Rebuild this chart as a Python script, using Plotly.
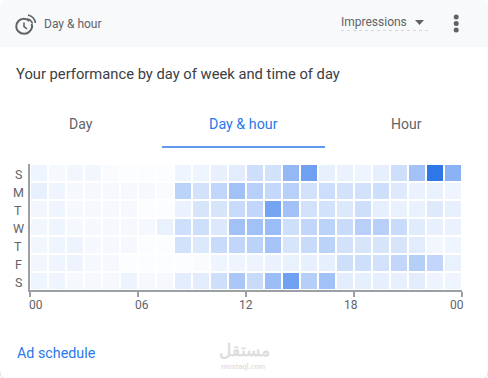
import plotly.graph_objects as go

W, H = 488, 378
hours = list(range(24))
day_labels = ["S", "M", "T", "W", "T", "F", "S"]
sun = [5, 3, 4, 4, 2, 1, 1, 1, 5, 5, 9, 12, 22, 20, 48, 65, 9, 7, 5, 10, 22, 42, 95, 52]
mon = [9, 5, 3, 3, 3, 3, 3, 2, 30, 20, 28, 42, 32, 27, 32, 20, 23, 20, 20, 22, 14, 7, 8, 5]
tue = [4, 5, 3, 3, 3, 3, 1, 1, 7, 18, 18, 25, 28, 62, 42, 20, 20, 15, 22, 10, 8, 8, 14, 9]
wed = [4, 5, 3, 3, 3, 3, 3, 8, 22, 22, 15, 42, 42, 45, 22, 28, 30, 25, 32, 32, 25, 13, 9, 7]
thu = [4, 5, 6, 3, 3, 3, 1, 1, 20, 15, 25, 28, 30, 40, 18, 25, 30, 20, 18, 18, 18, 12, 4, 5]
fri = [4, 5, 6, 3, 3, 1, 1, 1, 1, 2, 5, 5, 6, 7, 8, 9, 10, 22, 22, 20, 28, 33, 28, 8]
sat = [5, 5, 3, 3, 3, 6, 3, 3, 11, 12, 22, 38, 25, 45, 65, 33, 42, 11, 10, 10, 9, 12, 6, 5]
values = [sun, mon, tue, wed, thu, fri, sat]
tick_positions = [-0.5, 5.5, 11.5, 17.5, 23.5]
tick_labels = ["00", "06", "12", "18", "00"]
tick_label_shifts = [6, 4, 0, -3, -5]

FONT = "Roboto"
GREY = "#5f6368"
BLUE = "#2a78ea"


def px(x):
    return x / W


def py(y):
    return 1 - y / H


def path(s):
    out = []
    for t in s:
        if isinstance(t, tuple):
            out.append(f"{px(t[0]):.5f},{py(t[1]):.5f}")
        else:
            out.append(t)
    return " ".join(out)


def text(x, y, t, size, color, anchor="left", weight=400, family=FONT):
    return dict(xref="paper", yref="paper", x=px(x - (2 if anchor == "left" else 0)), y=py(y), text=t,
                showarrow=False, xanchor=anchor, yanchor="middle",
                font=dict(family=family, size=size, color=color, weight=weight))


fig = go.Figure(go.Heatmap(
    z=values, x=hours, y=list(range(7)), zmin=0, zmax=100,
    colorscale=[[0, "#ffffff"], [0.05, "#eff5fe"], [0.2, "#d3e2fb"], [0.5, "#8fb5f6"], [1, "#2470e6"]],
    showscale=False, xgap=2, ygap=2, hoverinfo="skip",
))

shapes = [
    dict(type="path", xref="paper", yref="paper", line=dict(width=0), fillcolor="#f8f9fa", layer="below",
         path=path(["M", (0, 47), "L", (0, 8), "Q", (0, 0), (8, 0), "L", (480, 0),
                    "Q", (488, 0), (488, 8), "L", (488, 47), "Z"])),
    dict(type="path", xref="paper", yref="paper", line=dict(width=1, color="#dadce0"),
         path=path(["M", (0, 372), "Q", (0, 378), (4, 378)])),
    dict(type="path", xref="paper", yref="paper", line=dict(width=1, color="#dadce0"),
         path=path(["M", (488, 372), "Q", (488, 378), (484, 378)])),
    dict(type="path", xref="paper", yref="paper", line=dict(width=2, color=GREY),
         path=path(["M", (29.5, 21), "C", (26.5, 18), (21, 18), (18.5, 21),
                    "C", (15.5, 24), (15.5, 29), (18.5, 31.5),
                    "C", (21.5, 34.5), (27, 34.5), (29.5, 31.5),
                    "C", (32, 29), (32.5, 26), (31.5, 24)])),
    dict(type="path", xref="paper", yref="paper", line=dict(width=1.6, color=GREY),
         path=path(["M", (24, 22.5), "L", (24, 26.5), "L", (27, 29)])),
    dict(type="path", xref="paper", yref="paper", line=dict(width=1.6, color=GREY),
         path=path(["M", (27, 19), "Q", (31, 19.5), (32.5, 23.5)])),
    dict(type="path", xref="paper", yref="paper", line=dict(width=1.6, color=GREY),
         path=path(["M", (28, 15), "Q", (34.5, 16.5), (35.5, 23)])),
    dict(type="path", xref="paper", yref="paper", line=dict(width=0), fillcolor=GREY,
         path=path(["M", (415, 20), "L", (424, 20), "L", (419.5, 25), "Z"])),
    dict(type="line", xref="paper", yref="paper", x0=px(341), x1=px(428), y0=py(30.5), y1=py(30.5),
         line=dict(width=1, color="#d5d7d9", dash="dot")),
    dict(type="line", xref="paper", yref="paper", x0=px(162), x1=px(325), y0=py(147), y1=py(147),
         line=dict(width=1.5, color=BLUE)),
]
for cy in (17, 23.5, 30):
    shapes.append(dict(type="circle", xref="paper", yref="paper", line=dict(width=0), fillcolor=GREY,
                       x0=px(453.7), x1=px(458.7), y0=py(cy + 2.5), y1=py(cy - 2.5)))

annotations = [
    text(44, 24, "Day &amp; hour", 12, GREY),
    text(341, 22, "Impressions", 12, GREY),
    text(16, 74, "Your performance by day of week and time of day", 14.75, "#3c4043"),
    text(81, 124, "Day", 14, GREY, "center"),
    text(243, 124, "Day &amp; hour", 14.3, BLUE, "center"),
    text(406, 124, "Hour", 14, GREY, "center"),
    text(17, 353, "Ad schedule", 14.3, BLUE),
    text(244, 349, "مستقل", 17, "#dedede", "center", 700, "Noto Sans"),
    text(243, 366, "mostaql.com", 7.5, "#dedede", "center", 500),
]
for i, lab in enumerate(day_labels):
    annotations.append(dict(xref="paper", yref="y", x=px(18), y=i, text=lab, showarrow=False,
                            xanchor="center", yanchor="middle", yshift=-1,
                            font=dict(family=FONT, size=12.5, color=GREY)))
for pos, lab, sh in zip(tick_positions, tick_labels, tick_label_shifts):
    annotations.append(dict(xref="x", yref="paper", x=pos, y=py(305), text=lab, showarrow=False,
                            xanchor="center", yanchor="middle", xshift=sh,
                            font=dict(family=FONT, size=12, color=GREY)))

fig.update_layout(
    width=W, height=H, margin=dict(l=0, r=0, t=0, b=0),
    paper_bgcolor="#ffffff", plot_bgcolor="#ffffff",
    shapes=shapes, annotations=annotations, showlegend=False,
    xaxis=dict(domain=[px(30), px(462)], range=[-0.5, 23.5], tickvals=tick_positions,
               ticktext=[""] * 5, ticks="outside", ticklen=5, tickwidth=2, tickcolor="#9aa0a6",
               showgrid=False, zeroline=False, showline=True, linecolor="#9aa0a6", linewidth=1.5),
    yaxis=dict(domain=[py(290), py(164)], range=[6.5, -0.5], tickvals=[], showticklabels=False,
               showgrid=False, zeroline=False, showline=True, linecolor="#9aa0a6", linewidth=1.5),
)
fig.write_html("out.html", config=dict(displayModeBar=False),
               post_script="document.body.style.margin='0';document.body.style.overflow='hidden';")
